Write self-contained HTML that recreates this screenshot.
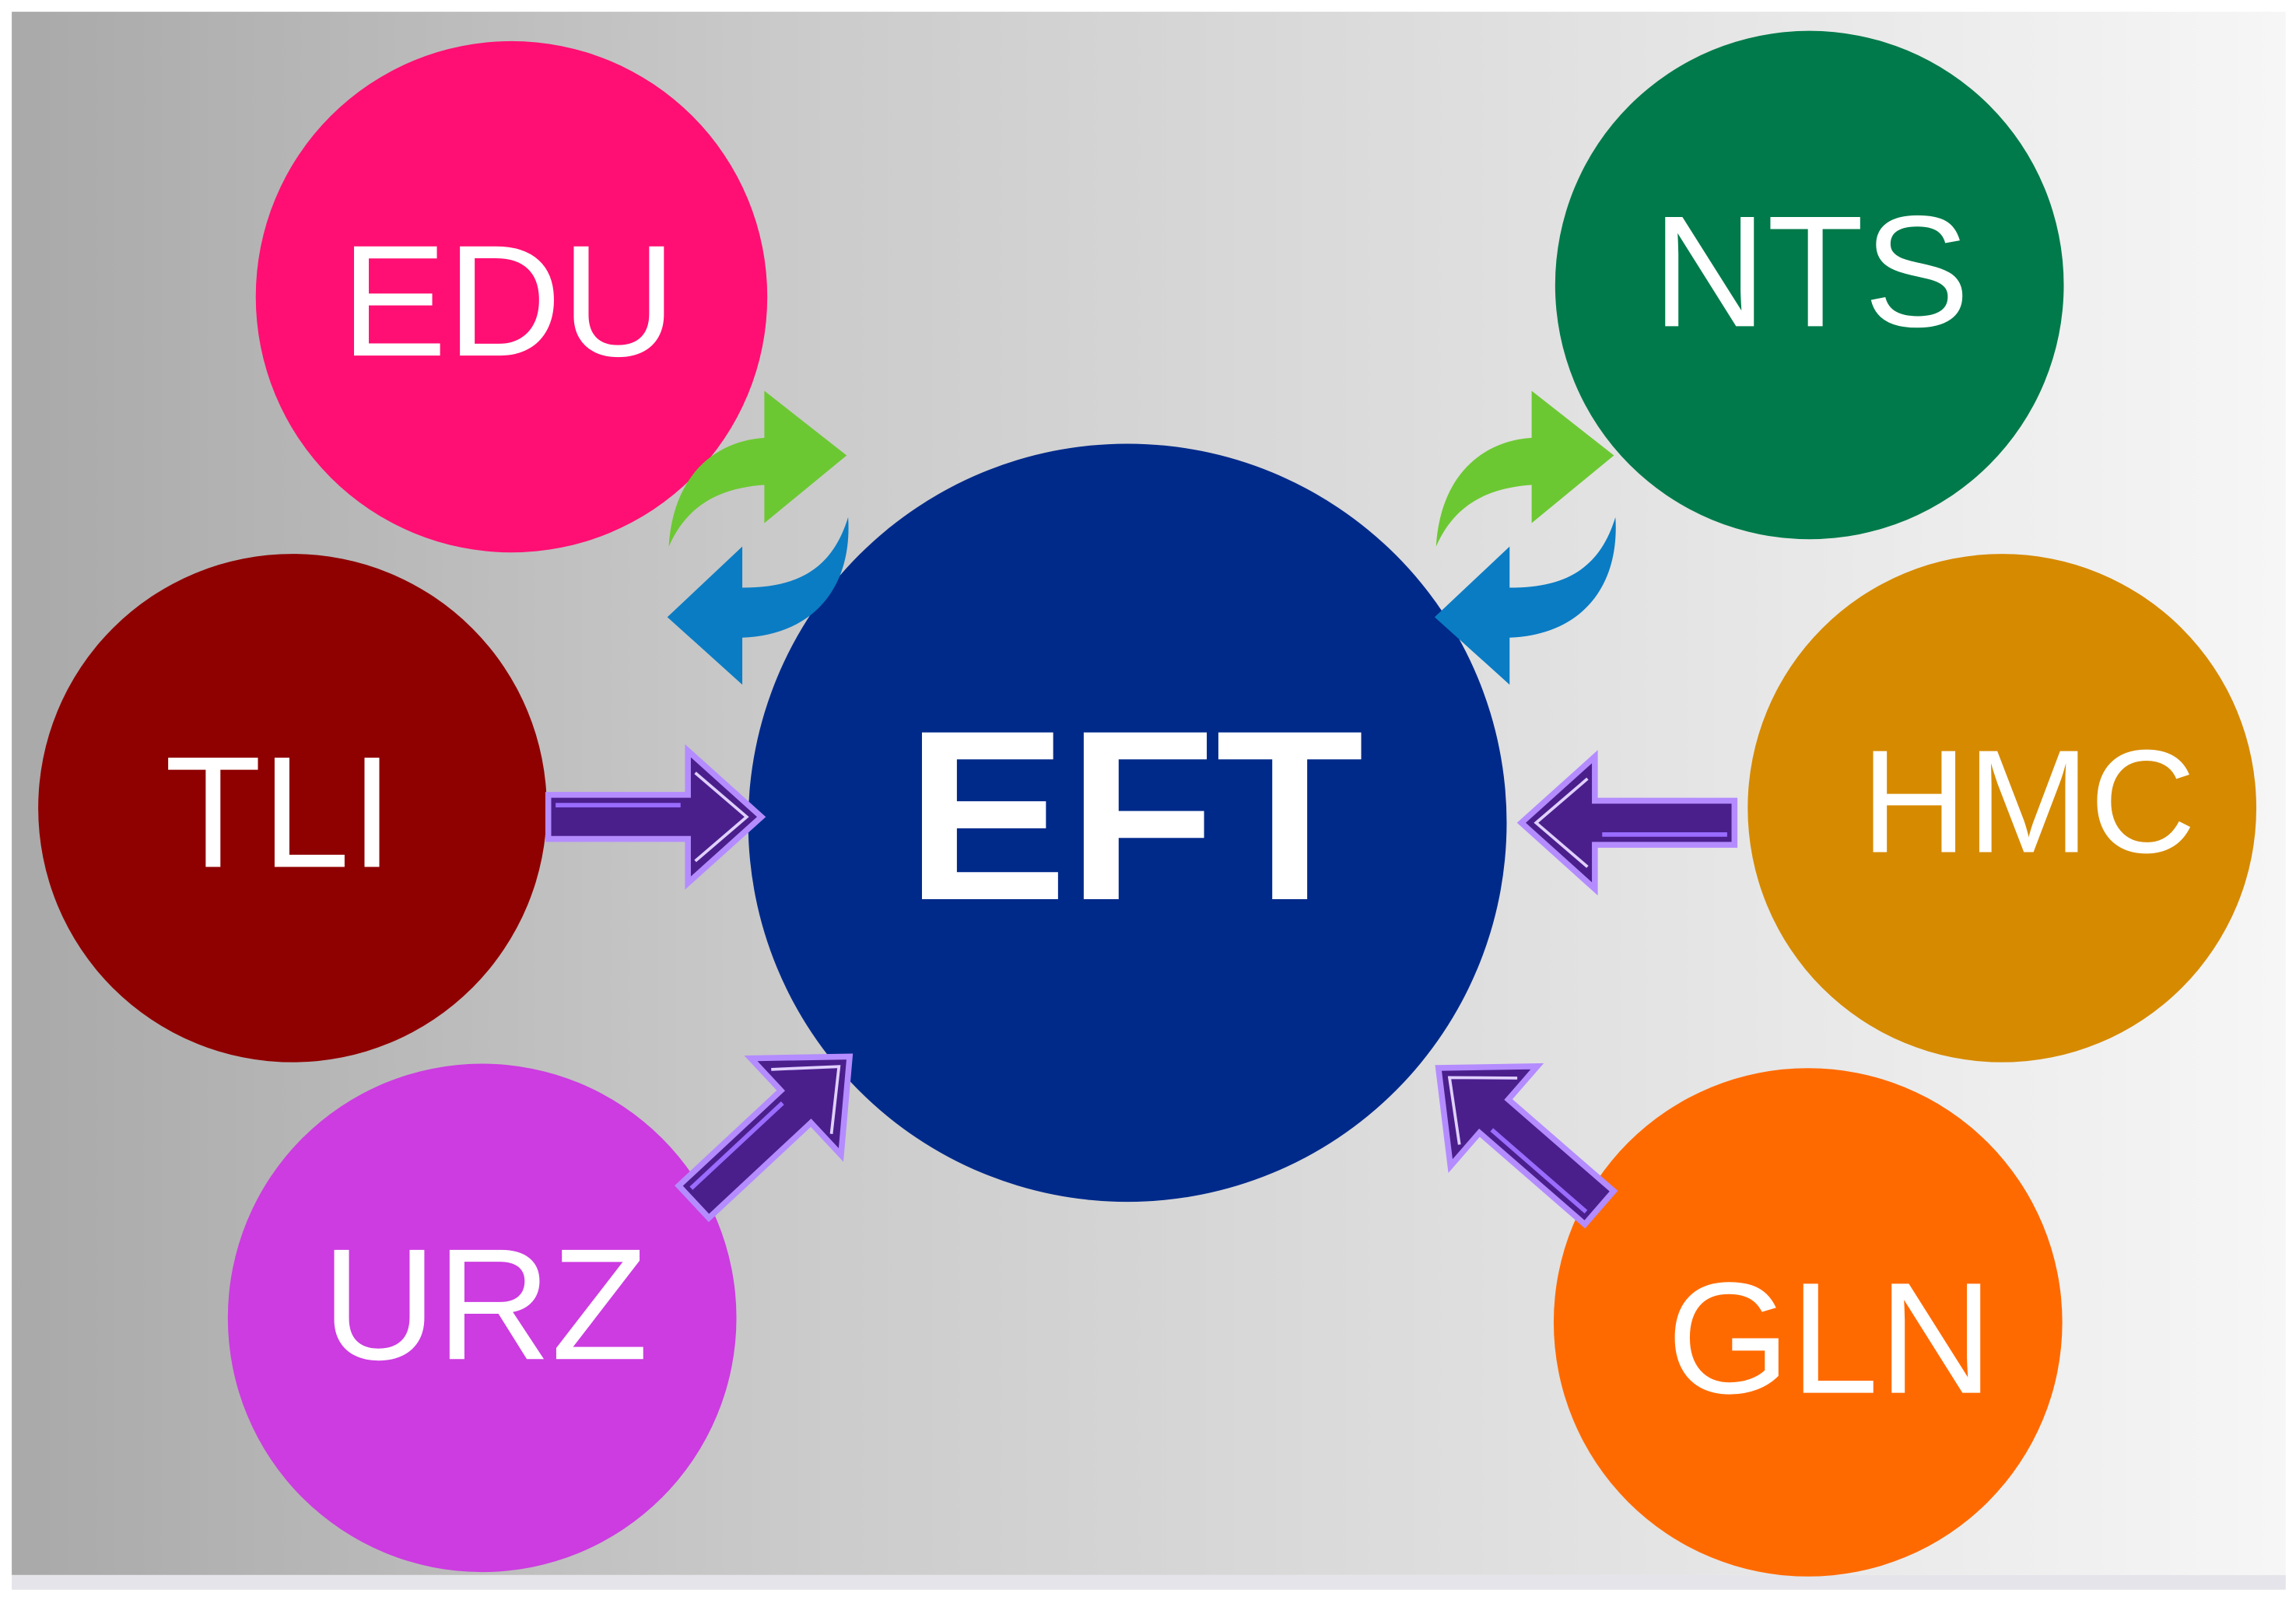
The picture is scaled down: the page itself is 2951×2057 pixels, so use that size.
<!DOCTYPE html>
<html><head><meta charset="utf-8"><style>
html,body{margin:0;padding:0;background:#fff;}
svg{display:block;}
</style></head><body>
<svg width="2951" height="2057" viewBox="0 0 1562 1089" preserveAspectRatio="none" xmlns="http://www.w3.org/2000/svg">
<defs>
<linearGradient id="bg" x1="0" x2="1" y1="0" y2="0">
<stop offset="0" stop-color="#a9a9a9"/>
<stop offset="0.35" stop-color="#cbcbcb"/>
<stop offset="1" stop-color="#f6f6f6"/>
</linearGradient>
<g id="parrow">
<path d="M0,-15 L95,-15 L95,-45 L145,0 L95,45 L95,15 L0,15 Z" fill="#4a1f8c" stroke="#b48cff" stroke-width="4" stroke-linejoin="miter"/>
<path d="M5,-8 L90,-8" stroke="#9a6cff" stroke-width="3"/>
<path d="M100,-30 L135,0 L100,30" fill="none" stroke="#e0d0ff" stroke-width="2"/>
</g>
</defs>
<rect x="8" y="8" width="1547" height="1064" fill="url(#bg)"/>
<rect x="8" y="1072" width="1547" height="10" fill="#e4e4ea"/>

<circle cx="348" cy="202" r="174" fill="#ff0f73"/>
<circle cx="1231" cy="194" r="173" fill="#007a4a"/>
<circle cx="199" cy="550" r="173" fill="#8f0000"/>
<circle cx="1362" cy="550" r="173" fill="#d68a00"/>
<circle cx="328" cy="897" r="173" fill="#cc3ce0"/>
<circle cx="1230" cy="900" r="173" fill="#ff6a00"/>
<circle cx="767" cy="560" r="258" fill="#002a8a"/>

<g font-family="Liberation Sans, sans-serif" fill="#fff" text-anchor="middle">
<text x="346" y="242" font-size="108" font-weight="300">EDU</text>
<text x="1232" y="222" font-size="108">NTS</text>
<text x="190" y="590" font-size="108">TLI</text>
<text x="1380" y="580" font-size="100">HMC</text>
<text x="330" y="925" font-size="108">URZ</text>
<text x="1245" y="948" font-size="108">GLN</text>
<text x="772" y="612" font-size="165" font-weight="bold">EFT</text>
</g>

<g id="swap">
<path d="M455,372 C458,322 488,300 520,298 L520,266 L576,310 L520,356 L520,330 C492,332 468,342 455,372 Z" fill="#6cc832"/>
<path d="M577,352 C580,398 555,432 505,434 L505,466 L454,420 L505,372 L505,400 C542,400 566,388 577,352 Z" fill="#0a7cc4"/>
</g>
<use href="#swap" transform="translate(522,0)"/>

<use href="#parrow" transform="translate(373,556)"/>
<use href="#parrow" transform="translate(1180,560) rotate(180)"/>
<use href="#parrow" transform="translate(472,818) rotate(-43)"/>
<use href="#parrow" transform="translate(1088,822) rotate(-139)"/>
</svg>
</body></html>
